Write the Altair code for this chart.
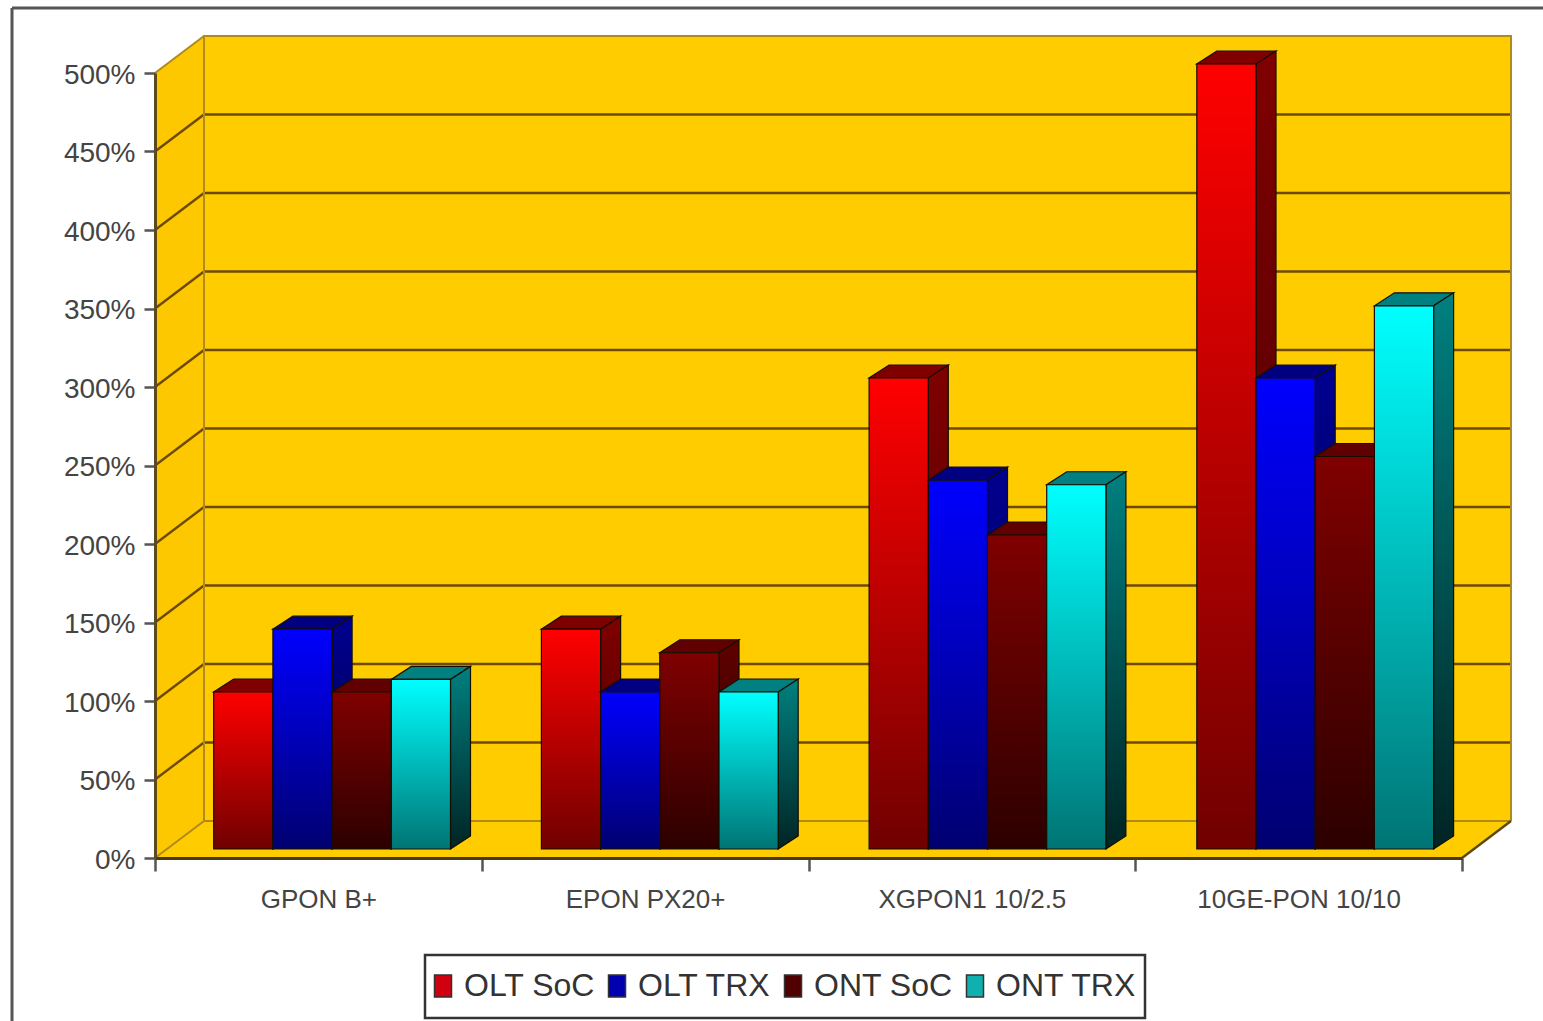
import json
import altair as alt
import pandas as pd

# Values as percentages of the baseline technology
CATEGORIES = ["GPON B+", "EPON PX20+", "XGPON1 10/2.5", "10GE-PON 10/10"]
OLT_SOC = [100, 140, 300, 500]
OLT_TRX = [140, 100, 235, 300]
ONT_SOC = [100, 125, 200, 250]
ONT_TRX = [108, 100, 232, 346]
SERIES = ["OLT SoC", "OLT TRX", "ONT SoC", "ONT TRX"]
SERIES_VALUES = [OLT_SOC, OLT_TRX, ONT_SOC, ONT_TRX]
TICKS = list(range(0, 501, 50))

# Shading per series: front gradient ends, side gradient ends, top colour
FRONT = [("#ff0000", "#700000"), ("#0000ff", "#000070"), ("#800000", "#2c0000"), ("#00ffff", "#007474")]
SIDE = [("#800000", "#3c0000"), ("#000090", "#000040"), ("#600000", "#200000"), ("#008080", "#002424")]
TOP = ["#800000", "#000080", "#600000", "#008080"]
LEGEND_FILL = ["#d00010", "#0000b0", "#500000", "#10b0b0"]

# Plot geometry, expressed in data units so everything passes through the scales
PLOT_W, PLOT_H = 1307, 785
PX_X = 4 / PLOT_W          # group units per pixel
PX_Y = 500 / PLOT_H        # percent per pixel
WALL_DX, WALL_DY = 49 * PX_X, 37 * PX_Y
BAR_DX, BAR_DY = 20 * PX_X, 13 * PX_Y
BAR_START, BAR_W = 58.7 * PX_X, 59.2 * PX_X
BAR_LIFT = 9 * PX_Y
GROUP_PITCH = 327.7 * PX_X

xs = alt.Scale(domain=[0, 4], nice=False, zero=False)
ys = alt.Scale(domain=[0, 500], nice=False, zero=False)

# Axes are shared by every layer that has positional fields
label_expr = f"datum.value % 1 ? {json.dumps(CATEGORIES)}[floor(datum.value)] : ''"
x_axis = alt.Axis(
    values=[i / 2 for i in range(9)], labelExpr=label_expr, grid=False, zindex=1,
    domainColor="#4a3a10", domainWidth=3, tickColor="#555555", tickWidth=2.5, tickSize=13,
    tickOpacity={"condition": {"test": "datum.value % 1 === 0", "value": 1}, "value": 0},
    labelFont="Liberation Sans", labelFontSize=26, labelColor="#444444",
    labelPadding=15, labelOverlap=False, labelFlush=False, labelBound=False, labelLimit=400,
)
y_axis = alt.Axis(
    values=TICKS, labelExpr="datum.value + '%'", grid=False, zindex=1,
    domainColor="#5a4a20", domainWidth=3, tickColor="#555555", tickWidth=2.5, tickSize=11,
    labelFont="Liberation Sans", labelFontSize=28, labelColor="#444444", labelPadding=9,
    labelOffset=2, labelOverlap=False, labelBound=False, labelFlush=False,
)


def X(field="x"):
    return alt.X(f"{field}:Q", scale=xs, axis=x_axis, title=None)


def Y(field="y"):
    return alt.Y(f"{field}:Q", scale=ys, axis=y_axis, title=None, stack=None)


def grad(top, bottom):
    return alt.Gradient(
        gradient="linear", x1=0, y1=0, x2=0, y2=1,
        stops=[alt.GradientStop(color=top, offset=0), alt.GradientStop(color=bottom, offset=1)],
    )


def area_layer(rows, color):
    return alt.Chart(pd.DataFrame(rows)).mark_area(
        color=color, stroke="#150e00", strokeWidth=1.2, opacity=1
    ).encode(x=X(), y=Y(), y2=alt.Y2("y2:Q"), detail="id:N")


def line_layer(rows, color, width):
    return alt.Chart(pd.DataFrame(rows)).mark_line(
        color=color, strokeWidth=width
    ).encode(x=X(), y=Y(), detail="id:N", order="o:Q")


# Walls and floor
wall_color = "#ffcc00"
back_wall = alt.Chart(pd.DataFrame([{"x": WALL_DX, "x2": 4 + WALL_DX, "y": WALL_DY, "y2": 500 + WALL_DY}])).mark_rect(
    color=wall_color
).encode(x=X(), x2=alt.X2("x2:Q"), y=Y(), y2=alt.Y2("y2:Q"))
left_wall = alt.Chart(pd.DataFrame([
    {"id": 0, "x": 0, "y": 0, "y2": 500},
    {"id": 0, "x": WALL_DX, "y": WALL_DY, "y2": 500 + WALL_DY},
])).mark_area(color="#fdc800").encode(x=X(), y=Y(), y2=alt.Y2("y2:Q"))
floor = alt.Chart(pd.DataFrame([
    {"x": 0, "y": 0, "y2": 0},
    {"x": WALL_DX, "y": 0, "y2": WALL_DY},
    {"x": 4, "y": 0, "y2": WALL_DY},
    {"x": 4 + WALL_DX, "y": WALL_DY, "y2": WALL_DY},
])).mark_area(color="#ffcc00").encode(x=X(), y=Y(), y2=alt.Y2("y2:Q"))

grid_rows = []
for t in TICKS[1:-1]:
    grid_rows += [
        {"id": t, "o": 0, "x": 0, "y": t},
        {"id": t, "o": 1, "x": WALL_DX, "y": t + WALL_DY},
        {"id": t, "o": 2, "x": 4 + WALL_DX, "y": t + WALL_DY},
    ]
gridlines = line_layer(grid_rows, "#6e4a00", 2.4)

edge_rows = [
    {"id": "edge", "o": 0, "x": 0, "y": 0},
    {"id": "edge", "o": 1, "x": WALL_DX, "y": WALL_DY},
    {"id": "edge", "o": 2, "x": WALL_DX, "y": 500 + WALL_DY},
    {"id": "edge", "o": 3, "x": 4 + WALL_DX, "y": 500 + WALL_DY},
    {"id": "edge", "o": 4, "x": 4 + WALL_DX, "y": WALL_DY},
    {"id": "floor", "o": 0, "x": WALL_DX, "y": WALL_DY},
    {"id": "floor", "o": 1, "x": 4 + WALL_DX, "y": WALL_DY},
    {"id": "top", "o": 0, "x": 0, "y": 500},
    {"id": "top", "o": 1, "x": WALL_DX, "y": 500 + WALL_DY},
]
edges = line_layer(edge_rows, "#b08a1c", 2)
floor_edge = line_layer(
    [{"id": "r", "o": 0, "x": 4, "y": 0}, {"id": "r", "o": 1, "x": 4 + WALL_DX, "y": WALL_DY}],
    "#5a4a10", 2.4,
)

# Bars: painted left to right so each front face hides its neighbour's side
bar_layers = []
for s, values in enumerate(SERIES_VALUES):
    top_rows, side_rows, front_rows = [], [], []
    for g, v in enumerate(values):
        x0 = g * GROUP_PITCH + BAR_START + s * BAR_W
        x1 = x0 + BAR_W
        y0 = BAR_LIFT
        y1 = v + BAR_LIFT
        front_rows.append({"x": x0, "x2": x1, "y": y0, "y2": y1})
        side_rows += [
            {"id": g, "x": x1, "y": y0, "y2": y1},
            {"id": g, "x": x1 + BAR_DX, "y": y0 + BAR_DY, "y2": y1 + BAR_DY},
        ]
        top_rows += [
            {"id": g, "x": x0, "y": y1, "y2": y1},
            {"id": g, "x": x0 + BAR_DX, "y": y1, "y2": y1 + BAR_DY},
            {"id": g, "x": x1, "y": y1, "y2": y1 + BAR_DY},
            {"id": g, "x": x1 + BAR_DX, "y": y1 + BAR_DY, "y2": y1 + BAR_DY},
        ]
    bar_layers.append(area_layer(top_rows, TOP[s]))
    bar_layers.append(area_layer(side_rows, grad(*SIDE[s])))
    bar_layers.append(
        alt.Chart(pd.DataFrame(front_rows)).mark_rect(
            color=grad(*FRONT[s]), stroke="#150e00", strokeWidth=1.2
        ).encode(x=X(), x2=alt.X2("x2:Q"), y=Y(), y2=alt.Y2("y2:Q"))
    )

# Legend comes from an invisible layer with a flat colour per series
legend = alt.Chart(pd.DataFrame({"series": SERIES, "x": [0] * 4, "y": [0] * 4})).mark_square(size=0).encode(
    x=X(), y=Y(),
    color=alt.Color(
        "series:N",
        scale=alt.Scale(domain=SERIES, range=LEGEND_FILL),
        legend=alt.Legend(
            title=None, orient="none", legendX=262, legendY=887, direction="horizontal", columns=4,
            symbolType="M-1,-1.3H1V1.3H-1Z", symbolSize=289, symbolStrokeColor="#333333", symbolStrokeWidth=1.5,
            labelFont="Liberation Sans", labelFontSize=32, labelColor="#333333", labelLimit=300,
            labelOffset=5, columnPadding=6, padding=10,
            symbolOpacity=1,
        ),
    ),
)

# Box behind the legend entries
legend_box = alt.Chart(pd.DataFrame({"a": [0]})).mark_rect(
    fill="#ffffff", stroke="#333333", strokeWidth=2.5
).encode(x=alt.value(270), x2=alt.value(990), y=alt.value(882), y2=alt.value(945))

# Outer frame along the top and left of the picture
frame_left = alt.Chart(pd.DataFrame({"a": [0]})).mark_rule(color="#555555", strokeWidth=3).encode(
    x=alt.value(-143), y=alt.value(-65), y2=alt.value(948)
)
frame_top = alt.Chart(pd.DataFrame({"a": [0]})).mark_rule(color="#555555", strokeWidth=3).encode(
    x=alt.value(-143), x2=alt.value(1388), y=alt.value(-65)
)

chart = alt.layer(
    frame_left, frame_top, legend_box, back_wall, left_wall, floor, gridlines, edges, floor_edge,
    *bar_layers, legend,
).properties(
    width=PLOT_W,
    height=PLOT_H,
    padding={"left": 155, "top": 73, "right": 81, "bottom": 163},
    autosize=alt.AutoSizeParams(type="none"),
    background="#ffffff",
).configure_view(stroke=None)

chart.save("out.html", embed_options={"renderer": "svg", "actions": False})
